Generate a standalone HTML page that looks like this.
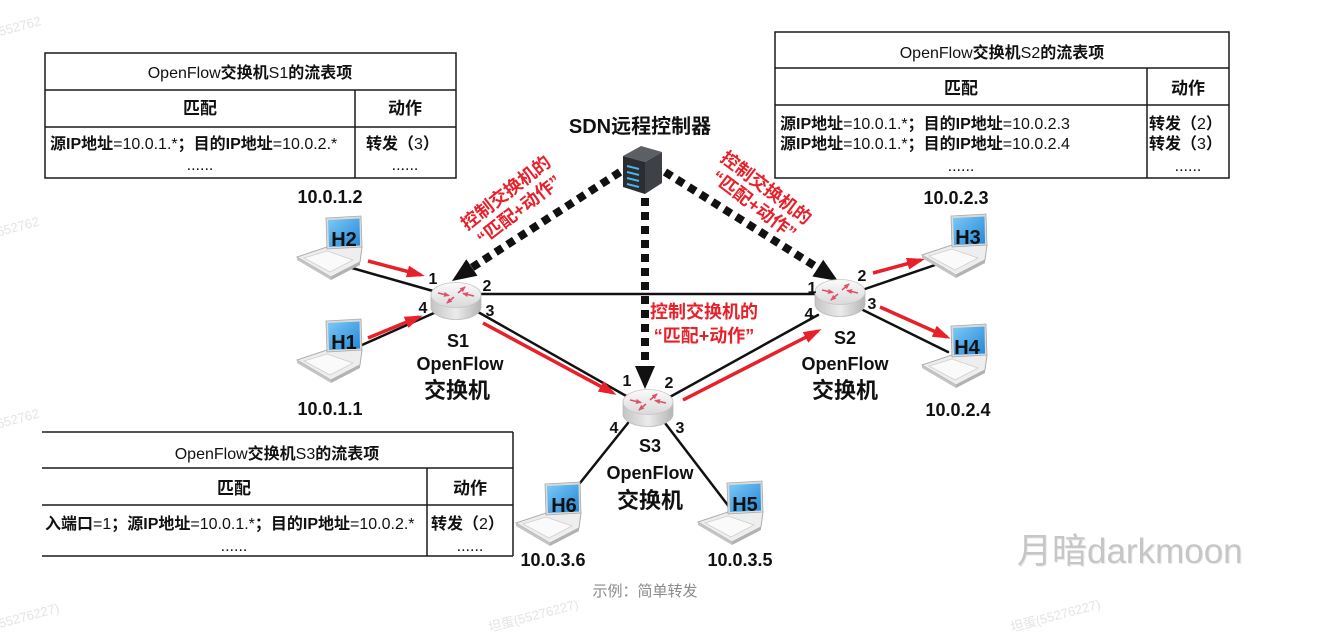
<!DOCTYPE html>
<html><head><meta charset="utf-8">
<style>
html,body{margin:0;padding:0;background:#fff;}
svg{display:block;}
text{font-family:"Liberation Sans","Noto Sans CJK SC",sans-serif;fill:#111;}
.b{font-weight:bold;}
.wm{fill:#e4e4e4;font-size:13px;}
</style></head><body>
<svg width="1324" height="637" viewBox="0 0 1324 637" xmlns="http://www.w3.org/2000/svg">
<defs>
 <linearGradient id="scr" x1="0" y1="0" x2="1" y2="1"><stop offset="0" stop-color="#7cc9f6"/><stop offset="1" stop-color="#2386d6"/></linearGradient>
 <linearGradient id="rtop" x1="0" y1="0" x2="0" y2="1"><stop offset="0" stop-color="#fbfbfb"/><stop offset="1" stop-color="#d9d9d9"/></linearGradient>
 <linearGradient id="rside" x1="0" y1="0" x2="1" y2="0"><stop offset="0" stop-color="#c4c4c4"/><stop offset="0.5" stop-color="#ebebeb"/><stop offset="1" stop-color="#b5b5b5"/></linearGradient>
 <marker id="ra" markerWidth="18" markerHeight="12" refX="14" refY="6" orient="auto" markerUnits="userSpaceOnUse"><path d="M0,0 L18,6 L0,12 Z" fill="#e8202a"/></marker>
 <marker id="rs" markerWidth="6" markerHeight="5" refX="5" refY="2.5" orient="auto" markerUnits="userSpaceOnUse"><path d="M0,0 L6,2.5 L0,5 Z" fill="#e0506a"/></marker>
 <g id="laptop">
  <polygon points="30,30 0,40 34,60 63,45 65,30" fill="#eeeeee" stroke="#aeaeae" stroke-width="1"/>
  <polygon points="0,40 0,43 34,63 34,60" fill="#c4c4c4"/>
  <polygon points="34,60 34,63 63,48 63,45" fill="#b2b2b2"/>
  <polygon points="30,34 7,41 33,55 56,43" fill="#fafafa" stroke="#cfcfcf" stroke-width="0.8"/>
  <polygon points="29,1 64,-1 65,30 30,32" fill="#dadada" stroke="#a8a8a8" stroke-width="0.8"/>
  <polygon points="31,3 62.5,1.5 63,28.5 32,30" fill="url(#scr)"/>
 </g>
 <g id="router">
  <path d="M-25,0 L-25,12 A25,12.5 0 0 0 25,12 L25,0 Z" fill="url(#rside)" stroke="#bbbbbb" stroke-width="0.8"/>
  <ellipse cx="0" cy="0" rx="25" ry="12.5" fill="url(#rtop)" stroke="#c6c6c6" stroke-width="0.8"/>
  <line x1="-18" y1="-2" x2="-7" y2="0.5" stroke="#e0506a" stroke-width="1.6" marker-end="url(#rs)"/>
  <line x1="18" y1="1" x2="7" y2="-1.5" stroke="#e0506a" stroke-width="1.6" marker-end="url(#rs)"/>
  <line x1="2" y1="-2" x2="9" y2="-8" stroke="#e0506a" stroke-width="1.6" marker-end="url(#rs)"/>
  <line x1="-2" y1="2" x2="-9" y2="8" stroke="#e0506a" stroke-width="1.6" marker-end="url(#rs)"/>
 </g>
</defs>

<!-- watermarks -->
<text class="wm" x="0" y="36" transform="rotate(-15 0 36)">552762</text>
<text class="wm" x="-2" y="236" transform="rotate(-15 0 236)">552762</text>
<text class="wm" x="-2" y="428" transform="rotate(-15 0 428)">552762</text>
<text class="wm" x="0" y="628" transform="rotate(-15 0 628)">55276227)</text>
<text class="wm" x="490" y="632" transform="rotate(-15 490 632)">坦蛋(55276227)</text>
<text class="wm" x="1012" y="632" transform="rotate(-15 1012 632)">坦蛋(55276227)</text>

<!-- Table S1 -->
<g stroke="#1a1a1a" stroke-width="1.5" fill="none">
 <rect x="45" y="53" width="411" height="125"/>
 <line x1="45" y1="90" x2="456" y2="90"/>
 <line x1="45" y1="127" x2="456" y2="127"/>
 <line x1="355" y1="90" x2="355" y2="178"/>
</g>
<text x="250" y="78" font-size="16" text-anchor="middle">OpenFlow<tspan class="b">交换机</tspan>S1<tspan class="b">的流表项</tspan></text>
<text x="200" y="114" font-size="17" class="b" text-anchor="middle">匹配</text>
<text x="405" y="114" font-size="17" class="b" text-anchor="middle">动作</text>
<text x="50" y="149" font-size="16"><tspan class="b">源IP地址</tspan>=10.0.1.*<tspan class="b">；目的IP地址</tspan>=10.0.2.*</text>
<text x="366" y="149" font-size="16"><tspan class="b">转发（</tspan>3<tspan class="b">）</tspan></text>
<text x="200" y="170" font-size="16" text-anchor="middle">......</text>
<text x="405" y="170" font-size="16" text-anchor="middle">......</text>

<!-- Table S2 -->
<g stroke="#1a1a1a" stroke-width="1.5" fill="none">
 <rect x="775" y="32" width="454" height="146"/>
 <line x1="775" y1="68" x2="1229" y2="68"/>
 <line x1="775" y1="105" x2="1229" y2="105"/>
 <line x1="1147" y1="68" x2="1147" y2="178"/>
</g>
<text x="1002" y="58" font-size="16" text-anchor="middle">OpenFlow<tspan class="b">交换机</tspan>S2<tspan class="b">的流表项</tspan></text>
<text x="961" y="94" font-size="17" class="b" text-anchor="middle">匹配</text>
<text x="1188" y="94" font-size="17" class="b" text-anchor="middle">动作</text>
<text x="780" y="129" font-size="16"><tspan class="b">源IP地址</tspan>=10.0.1.*<tspan class="b">；目的IP地址</tspan>=10.0.2.3</text>
<text x="780" y="149" font-size="16"><tspan class="b">源IP地址</tspan>=10.0.1.*<tspan class="b">；目的IP地址</tspan>=10.0.2.4</text>
<text x="1149" y="129" font-size="16"><tspan class="b">转发（</tspan>2<tspan class="b">）</tspan></text>
<text x="1149" y="149" font-size="16"><tspan class="b">转发（</tspan>3<tspan class="b">）</tspan></text>
<text x="961" y="171" font-size="16" text-anchor="middle">......</text>
<text x="1188" y="171" font-size="16" text-anchor="middle">......</text>

<!-- Table S3 -->
<g stroke="#1a1a1a" stroke-width="1.5" fill="none">
 <line x1="42" y1="432" x2="513" y2="432"/>
 <line x1="42" y1="468" x2="513" y2="468"/>
 <line x1="42" y1="505" x2="513" y2="505"/>
 <line x1="42" y1="556" x2="513" y2="556"/>
 <line x1="513" y1="432" x2="513" y2="556"/>
 <line x1="427" y1="468" x2="427" y2="556"/>
</g>
<text x="277" y="459" font-size="16" text-anchor="middle">OpenFlow<tspan class="b">交换机</tspan>S3<tspan class="b">的流表项</tspan></text>
<text x="234" y="494" font-size="17" class="b" text-anchor="middle">匹配</text>
<text x="470" y="494" font-size="17" class="b" text-anchor="middle">动作</text>
<text x="45" y="529" font-size="16"><tspan class="b">入端口</tspan>=1<tspan class="b">；源IP地址</tspan>=10.0.1.*<tspan class="b">；目的IP地址</tspan>=10.0.2.*</text>
<text x="431" y="529" font-size="16"><tspan class="b">转发（</tspan>2<tspan class="b">）</tspan></text>
<text x="234" y="551" font-size="16" text-anchor="middle">......</text>
<text x="470" y="551" font-size="16" text-anchor="middle">......</text>

<!-- black links -->
<g stroke="#111" stroke-width="2.5" stroke-linecap="round">
 <line x1="352" y1="268" x2="433" y2="291"/>
 <line x1="362" y1="345" x2="434" y2="313"/>
 <line x1="478" y1="294" x2="818" y2="294"/>
 <line x1="478" y1="312" x2="628" y2="397"/>
 <line x1="668" y1="398" x2="818" y2="315"/>
 <line x1="862" y1="290" x2="935" y2="265"/>
 <line x1="863" y1="310" x2="948" y2="352"/>
 <line x1="628" y1="423" x2="572" y2="493"/>
 <line x1="665" y1="423" x2="730" y2="508"/>
</g>

<!-- dotted controller lines -->
<g stroke="#111" stroke-width="8" fill="none" stroke-dasharray="8 6">
 <line x1="620" y1="172" x2="472" y2="267.5"/>
 <line x1="665" y1="172" x2="818" y2="268"/>
 <line x1="645" y1="198" x2="645" y2="368"/>
</g>
<polygon points="452,281 466.3,259.2 477.5,275.8" fill="#111"/>
<polygon points="838,281 812.4,276.5 823.2,259.7" fill="#111"/>
<polygon points="645,389 635,366 655,366" fill="#111"/>

<!-- server -->
<polygon points="623,156 641,146 662,152 645,162" fill="#5c5f63"/>
<polygon points="623,156 645,162 645,194 623,187" fill="#2a2d31"/>
<polygon points="645,162 662,152 662,183 645,194" fill="#3e4247"/>
<g stroke="#4fb6e8" stroke-width="2">
 <line x1="627" y1="166" x2="639" y2="169"/>
 <line x1="627" y1="172" x2="639" y2="175"/>
 <line x1="627" y1="178" x2="639" y2="181"/>
 <line x1="627" y1="184" x2="639" y2="187"/>
</g>
<text x="640" y="133" font-size="20" class="b" text-anchor="middle">SDN远程控制器</text>

<!-- red arrows -->
<g stroke="#e8202a" stroke-width="3.5" marker-end="url(#ra)">
 <line x1="368" y1="261" x2="421" y2="275"/>
 <line x1="368" y1="338" x2="419" y2="317"/>
 <line x1="483" y1="323" x2="613" y2="393"/>
 <line x1="683" y1="400" x2="818" y2="331"/>
 <line x1="873" y1="273" x2="921" y2="260"/>
 <line x1="880" y1="307" x2="947" y2="337"/>
</g>

<!-- routers -->
<use href="#router" transform="translate(456,295)"/>
<use href="#router" transform="translate(840,292)"/>
<use href="#router" transform="translate(648,402)"/>

<!-- laptops -->
<use href="#laptop" transform="translate(297,217)"/>
<use href="#laptop" transform="translate(297,320)"/>
<use href="#laptop" transform="translate(922,215)"/>
<use href="#laptop" transform="translate(922,325)"/>
<use href="#laptop" transform="translate(516,483)"/>
<use href="#laptop" transform="translate(698,482)"/>
<g font-size="20" class="b" text-anchor="middle">
 <text x="344" y="246">H2</text>
 <text x="344" y="349">H1</text>
 <text x="968" y="244">H3</text>
 <text x="967" y="354">H4</text>
 <text x="564" y="512">H6</text>
 <text x="745" y="511">H5</text>
</g>

<!-- port numbers -->
<g font-size="16" class="b" text-anchor="middle">
 <text x="433" y="284">1</text>
 <text x="487" y="291">2</text>
 <text x="490" y="316">3</text>
 <text x="423" y="313">4</text>
 <text x="812" y="293">1</text>
 <text x="862" y="281">2</text>
 <text x="872" y="309">3</text>
 <text x="809" y="319">4</text>
 <text x="627" y="386">1</text>
 <text x="669" y="388">2</text>
 <text x="614" y="433">4</text>
 <text x="680" y="433">3</text>
</g>

<!-- IP labels -->
<g font-size="18" class="b" text-anchor="middle">
 <text x="330" y="203">10.0.1.2</text>
 <text x="330" y="415">10.0.1.1</text>
 <text x="956" y="204">10.0.2.3</text>
 <text x="958" y="416">10.0.2.4</text>
 <text x="553" y="566">10.0.3.6</text>
 <text x="740" y="566">10.0.3.5</text>
</g>

<!-- switch labels -->
<g class="b" text-anchor="middle">
 <text x="458" y="347" font-size="18">S1</text>
 <text x="460" y="370" font-size="18">OpenFlow</text>
 <text x="457" y="398" font-size="22">交换机</text>
 <text x="845" y="344" font-size="18">S2</text>
 <text x="845" y="370" font-size="18">OpenFlow</text>
 <text x="845" y="398" font-size="22">交换机</text>
 <text x="650" y="452" font-size="18">S3</text>
 <text x="650" y="479" font-size="18">OpenFlow</text>
 <text x="650" y="508" font-size="22">交换机</text>
</g>

<!-- red control labels -->
<g class="b" font-size="18" text-anchor="middle">
 <text x="506" y="199" transform="rotate(-38 506 193)" style="fill:#e8202a">控制交换机的</text>
 <text x="519" y="216" transform="rotate(-38 519 210)" style="fill:#e8202a">“匹配+动作”</text>
 <text x="766" y="194" transform="rotate(37 766 188)" style="fill:#e8202a">控制交换机的</text>
 <text x="754" y="211" transform="rotate(37 754 205)" style="fill:#e8202a">“匹配+动作”</text>
</g>
<g class="b" font-size="18" text-anchor="middle">
 <text x="704" y="318" style="fill:#e8202a">控制交换机的</text>
 <text x="704" y="342" style="fill:#e8202a">“匹配+动作”</text>
</g>

<!-- caption & watermark -->
<text x="645" y="596" font-size="15" text-anchor="middle" style="fill:#8a8a8a">示例：简单转发</text>
<text x="1018" y="564" font-size="35" style="fill:#ececec">月暗darkmoon</text>
<text x="1017" y="563" font-size="35" style="fill:#c6c6c6">月暗darkmoon</text>
</svg>
</body></html>
